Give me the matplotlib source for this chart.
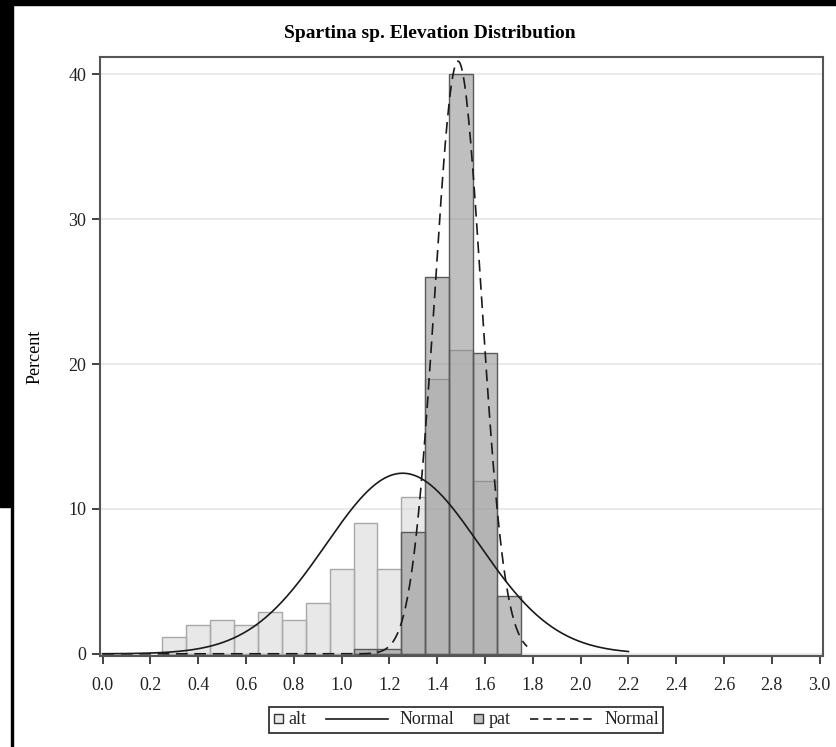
import numpy as np
import matplotlib
matplotlib.use("Agg")
import matplotlib.pyplot as plt
from matplotlib.patches import Rectangle
from matplotlib.lines import Line2D
from matplotlib.offsetbox import (DrawingArea, TextArea, HPacker, AnchoredOffsetbox)

plt.rcParams['font.family'] = ['Liberation Serif', 'DejaVu Serif']

# ---- data ----
bin_left = [0.25, 0.35, 0.45, 0.55, 0.65, 0.75, 0.85, 0.95, 1.05, 1.15,
            1.25, 1.35, 1.45, 1.55, 1.65]
alt_pct = [1.15, 2.0, 2.34, 2.0, 2.92, 2.34, 3.5, 5.84, 9.0, 5.84,
           10.8, 18.95, 20.95, 11.95, 0.0]
pat_pct = [0.0, 0.0, 0.0, 0.0, 0.0, 0.0, 0.0, 0.0, 0.3, 0.3,
           8.4, 26.0, 40.0, 20.75, 4.0]
bin_width = 0.1

alt_mean, alt_sd = 1.255, 0.32
pat_mean, pat_sd = 1.487, 0.0975
alt_curve_range = (0.0, 2.2)
pat_curve_range = (0.0, 1.776)

x_ticks = [0.0, 0.2, 0.4, 0.6, 0.8, 1.0, 1.2, 1.4, 1.6, 1.8, 2.0, 2.2, 2.4, 2.6, 2.8, 3.0]
y_ticks = [0, 10, 20, 30, 40]
title = "Spartina sp. Elevation Distribution"
ylabel = "Percent"
legend_labels = ['alt', 'Normal', 'pat', 'Normal']

def normal_pct(x, m, s):
    return 100 * bin_width * np.exp(-0.5 * ((x - m) / s) ** 2) / (s * np.sqrt(2 * np.pi))

W, H = 836, 747
fig = plt.figure(figsize=(W / 100, H / 100), dpi=100)
ax = fig.add_axes([100 / W, 1 - 656 / H, (823 - 100) / W, (656 - 57) / H])

ax.bar(bin_left, alt_pct, width=bin_width, align='edge', color='#d3d3d3', alpha=0.5,
       edgecolor='none', linewidth=0, zorder=2)
ax.bar([b for b, v in zip(bin_left, alt_pct) if v > 0], [v for v in alt_pct if v > 0],
       width=bin_width, align='edge', fill=False,
       edgecolor='#a8a8a8', linewidth=1.0, zorder=2)
ax.bar(bin_left, pat_pct, width=bin_width, align='edge', color='#818181', alpha=0.5,
       edgecolor='none', linewidth=0, zorder=3)
ax.bar([b for b, v in zip(bin_left, pat_pct) if v > 0], [v for v in pat_pct if v > 0],
       width=bin_width, align='edge', fill=False,
       edgecolor='#5a5a5a', linewidth=1.0, zorder=3)

xa = np.linspace(*alt_curve_range, 400)
ax.plot(xa, normal_pct(xa, alt_mean, alt_sd), color='#1a1a1a', lw=1.2, zorder=5)
xp = np.linspace(*pat_curve_range, 400)
ax.plot(xp, normal_pct(xp, pat_mean, pat_sd), color='#1a1a1a', lw=1.2,
        dashes=(7, 4), zorder=5)

ax.set_xlim(-0.011, 3.014)
ax.set_ylim(-0.15, 41.2)
ax.set_xticks(x_ticks)
ax.set_xticklabels([f"{t:.1f}" for t in x_ticks])
ax.set_yticks(y_ticks)
ax.yaxis.grid(True, color='#e6e6e6', lw=1.2, zorder=0)
ax.set_axisbelow(True)
for sp in ax.spines.values():
    sp.set_color('#555555')
    sp.set_linewidth(1.5)
ax.tick_params(axis='both', direction='out', length=6, width=1.3, color='#333333',
               labelsize=13, labelcolor='#222222')
ax.tick_params(axis='x', pad=9)
ax.tick_params(axis='y', pad=4)
ax.set_ylabel(ylabel, fontsize=13)
ax.yaxis.set_label_coords(-(100 - 44) / (823 - 100), 0.5)
fig.text(430 / W, 1 - 33 / H, title, ha='center', va='center', fontsize=14,
         fontweight='bold')

# ---- legend built from offset boxes (sizes in points) ----
def square(face):
    da = DrawingArea(7, 12, 0, 0)
    da.add_artist(Rectangle((0.3, 4.0), 6.4, 6.4, facecolor=face, edgecolor='#333333', lw=1.0))
    return da

def line(dashed):
    da = DrawingArea(45, 12, 0, 0)
    kw = dict(color='#1a1a1a', lw=1.2)
    if dashed:
        kw['dashes'] = (5, 3)
    da.add_artist(Line2D([0, 45], [7, 7], **kw))
    return da

tprops = dict(fontsize=13, color='#222222')
groups = [
    HPacker(children=[square('#e9e9e9'), TextArea(legend_labels[0], textprops=tprops)],
            align='center', pad=0, sep=4),
    HPacker(children=[line(False), TextArea(legend_labels[1], textprops=tprops)],
            align='center', pad=0, sep=8),
    HPacker(children=[square('#c0c0c0'), TextArea(legend_labels[2], textprops=tprops)],
            align='center', pad=0, sep=4),
    HPacker(children=[line(True), TextArea(legend_labels[3], textprops=tprops)],
            align='center', pad=0, sep=8),
]
pack = HPacker(children=groups, align='center', pad=0, sep=14)
box = AnchoredOffsetbox(loc='center', child=pack, pad=0.3, borderpad=0,
                        frameon=True, bbox_to_anchor=(466 / W, 1 - 720 / H),
                        bbox_transform=fig.transFigure)
box.patch.set_edgecolor('#222222')
box.patch.set_linewidth(1.2)
box.patch.set_boxstyle('square', pad=0)
fig.add_artist(box)

# black border decorations
fig.add_artist(Rectangle((0, 1 - 5 / H), 1, 5 / H, transform=fig.transFigure,
                         color='black', zorder=10))
fig.add_artist(Rectangle((0, 1 - 507 / H), 13 / W, 507 / H, transform=fig.transFigure,
                         color='black', zorder=10))
fig.add_artist(Rectangle((11 / W, 0), 2 / W, 1 - 507 / H, transform=fig.transFigure,
                         color='black', zorder=10))

fig.savefig("out.png", dpi=100)
